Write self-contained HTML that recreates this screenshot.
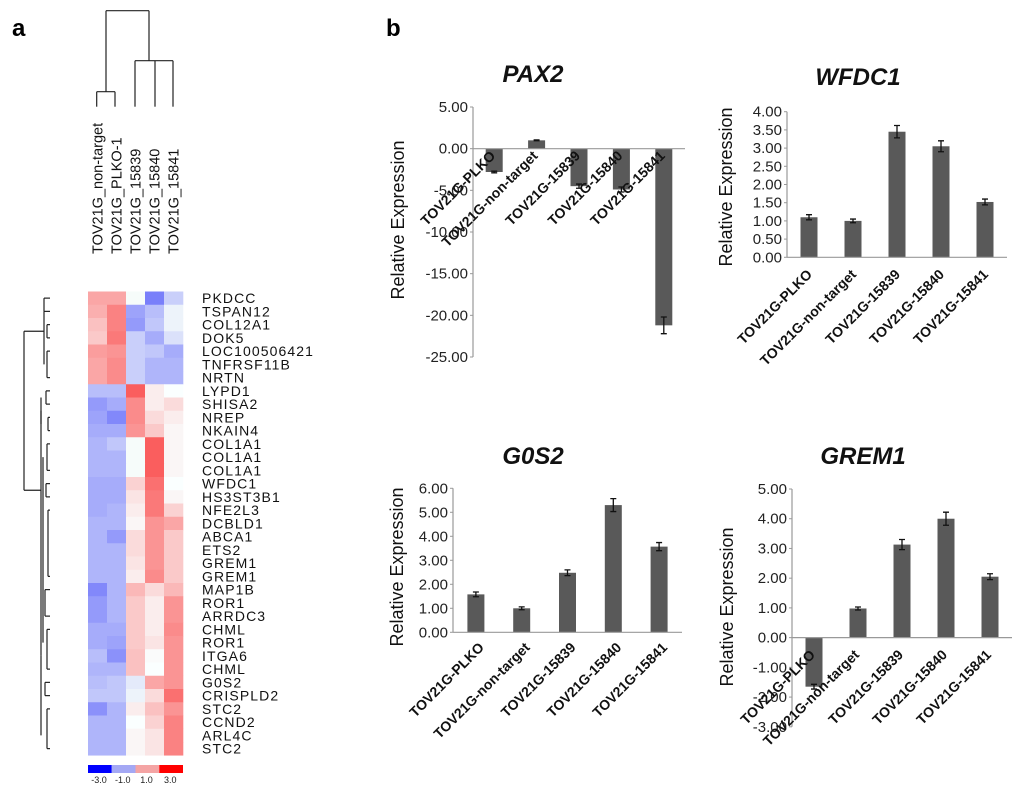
<!DOCTYPE html>
<html><head><meta charset="utf-8">
<style>
html,body{margin:0;padding:0;background:#fff;}
svg{display:block;font-family:"Liberation Sans",sans-serif;}
</style></head>
<body>
<svg id="fig" width="1024" height="787" viewBox="0 0 1024 787" xmlns="http://www.w3.org/2000/svg">
<text x="12" y="36" font-size="24" font-weight="bold">a</text>
<text x="386" y="36" font-size="24" font-weight="bold">b</text>
<g id="heat"></g>
<g id="charts"></g>
</svg>
<script>
const NS="http://www.w3.org/2000/svg";
function mk(tag,attrs,parent,txt){const e=document.createElementNS(NS,tag);for(const k in attrs)e.setAttribute(k,attrs[k]);if(txt!==undefined)e.textContent=txt;parent.appendChild(e);return e;}

// ---------- Heatmap data ----------
const heatSamples=["TOV21G_non-target","TOV21G_PLKO-1","TOV21G_15839","TOV21G_15840","TOV21G_15841"];
const heatGenes=["PKDCC","TSPAN12","COL12A1","DOK5","LOC100506421","TNFRSF11B","NRTN","LYPD1","SHISA2","NREP","NKAIN4","COL1A1","COL1A1","COL1A1","WFDC1","HS3ST3B1","NFE2L3","DCBLD1","ABCA1","ETS2","GREM1","GREM1","MAP1B","ROR1","ARRDC3","CHML","ROR1","ITGA6","CHML","G0S2","CRISPLD2","STC2","CCND2","ARL4C","STC2"];
const heatValues=[
[1.0,1.0,-0.1,-1.5,-0.6],[0.9,1.4,-1.1,-0.8,-0.2],[0.7,1.4,-1.2,-0.7,-0.2],[0.6,1.5,-0.6,-1.0,-0.4],
[1.1,1.2,-0.6,-0.7,-1.0],[1.0,1.3,-0.6,-0.9,-0.9],[1.0,1.3,-0.6,-0.9,-0.9],
[-0.8,-0.8,1.8,0.2,0.0],[-1.2,-1.0,1.3,0.2,0.4],[-1.1,-1.4,1.3,0.4,0.2],[-1.0,-1.0,1.2,0.6,0.1],
[-0.9,-0.7,-0.1,1.8,0.1],[-0.9,-0.9,-0.1,1.8,0.1],[-0.9,-0.9,-0.1,1.8,0.1],
[-1.0,-1.0,0.5,1.6,0.0],[-1.0,-1.0,0.3,1.5,0.1],[-1.0,-0.9,0.2,1.5,0.5],[-0.9,-0.9,0.1,1.2,1.0],
[-0.9,-1.2,0.4,1.2,0.6],[-0.9,-0.9,0.4,1.2,0.6],[-0.9,-0.9,0.3,1.2,0.6],[-0.9,-0.9,0.2,1.3,0.6],
[-1.4,-0.9,0.8,0.4,0.8],[-1.2,-0.9,0.6,0.2,1.2],[-1.2,-0.9,0.6,0.2,1.2],[-1.0,-1.0,0.6,0.2,1.3],
[-1.0,-1.1,0.6,0.3,1.2],[-0.8,-1.3,0.7,0.05,1.2],[-0.9,-0.9,0.7,0.0,1.2],
[-0.8,-0.7,-0.3,1.0,1.2],[-0.7,-0.7,-0.2,0.4,1.6],[-1.3,-0.9,0.2,0.7,1.2],[-0.9,-0.9,0.0,0.5,1.4],
[-0.9,-0.9,0.1,0.3,1.4],[-0.9,-0.9,0.1,0.3,1.4]];
const colorbarLabels=["-3.0","-1.0","1.0","3.0"];

const H=document.getElementById('heat');
const hx0=88,cw=19,hy0=291.5,rh=13.25;
function heatColor(v){const f=Math.min(Math.abs(v)/3,1);const c=Math.round(255*(1-f*1.05));const cc=Math.max(c,0);
 return v>=0?`rgb(250,${cc},${cc})`:`rgb(${cc},${Math.min(cc+6,255)},250)`;}
heatValues.forEach((row,r)=>{row.forEach((v,c)=>{
 const e=mk('rect',{x:hx0+c*cw,y:hy0+r*rh,width:cw+0.3,height:rh+0.3,fill:heatColor(v)},H);
 
 
});
 const t=mk('text',{x:202,y:hy0+r*rh+rh/2+5,'font-size':14,fill:'#111','letter-spacing':'1.1'},H,heatGenes[r]);
 
 
});
heatSamples.forEach((s,c)=>{
 const x=hx0+c*cw+cw/2+5;
 const t=mk('text',{x:x,y:254,'font-size':14.5,fill:'#111',transform:`rotate(-90 ${x} 254)`},H,s);
 
 
});
// top dendrogram
const topD=[[96.7,106.7,96.7,91.7],[115,106.7,115,91.7],[96.7,91.7,115,91.7],[106,91.7,106,10.7],
[135,106.7,135,60.7],[155,106.7,155,60.7],[173,106.7,173,60.7],[135,60.7,173,60.7],[149,60.7,149,10.7],[106,10.7,149,10.7]];
topD.forEach(l=>{const e=mk('line',{x1:l[0],y1:l[1],x2:l[2],y2:l[3],stroke:'#222','stroke-width':1.2},H);
 
 });
// left dendrogram (simplified)
const rowY=i=>hy0+i*rh+rh/2;
const leftD=[];
function clus(a,b,x){leftD.push([x,rowY(a),50,rowY(a)]);leftD.push([x,rowY(b),50,rowY(b)]);leftD.push([x,rowY(a),x,rowY(b)]);}
clus(0,1,44);clus(2,3,47);clus(4,6,47);leftD.push([44,rowY(1),44,rowY(5)]);
clus(7,8,46);clus(9,10,48);leftD.push([41,rowY(7.5),41,rowY(9.5)]);
clus(11,13,47);clus(14,15,46);clus(16,21,48);clus(22,24,45);clus(25,28,47);clus(29,30,45);clus(31,34,47);
leftD.push([41,rowY(8.5),41,rowY(27)]);leftD.push([43,rowY(12),43,rowY(26)]);
leftD.push([24,rowY(2.5),44,rowY(2.5)]);leftD.push([24,rowY(14.5),41,rowY(14.5)]);leftD.push([24,rowY(2.5),24,rowY(14.5)]);
leftD.push([41,rowY(27),41,rowY(33)]);
leftD.forEach(l=>{const e=mk('line',{x1:l[0],y1:l[1],x2:l[2],y2:l[3],stroke:'#222','stroke-width':1.2},H);
 
 });
// colorbar
const cbCols=['#0000ff','#a4a8f4','#f4a4a4','#ff0000'];
cbCols.forEach((c,i)=>{const e=mk('rect',{x:hx0+i*23.75,y:765,width:23.75,height:8,fill:c},H);
 
 
 const t=mk('text',{x:hx0+i*23.75+11,y:783,'font-size':9,'text-anchor':'middle',fill:'#222'},H,colorbarLabels[i]);
 
 });

// ---------- Bar chart data ----------
const categories=["TOV21G-PLKO","TOV21G-non-target","TOV21G-15839","TOV21G-15840","TOV21G-15841"];
const pax2Values=[-2.8,1.0,-4.5,-4.9,-21.2];
const pax2Errors=[0.1,0.05,0.25,0.3,1.0];
const pax2Ticks=["5.00","0.00","-5.00","-10.00","-15.00","-20.00","-25.00"];
const wfdc1Values=[1.1,1.0,3.45,3.05,1.52];
const wfdc1Errors=[0.07,0.05,0.17,0.15,0.08];
const wfdc1Ticks=["4.00","3.50","3.00","2.50","2.00","1.50","1.00","0.50","0.00"];
const g0s2Values=[1.58,1.0,2.48,5.3,3.57];
const g0s2Errors=[0.1,0.06,0.12,0.27,0.17];
const g0s2Ticks=["6.00","5.00","4.00","3.00","2.00","1.00","0.00"];
const grem1Values=[-1.65,0.98,3.13,4.0,2.05];
const grem1Errors=[0.08,0.05,0.17,0.22,0.1];
const grem1Ticks=["5.00","4.00","3.00","2.00","1.00","0.00","-1.00","-2.00","-3.00"];

const C=document.getElementById('charts');
function chart(o){
 const g=mk('g',{},C);
 
 
 const tv=o.ticks.map(Number);
 const ymax=tv[0],ymin=tv[tv.length-1];
 const y=v=>o.yTop+(ymax-v)/(ymax-ymin)*(o.yBot-o.yTop);
 const cw=(o.xR-o.x0)/categories.length;
 const xc=i=>o.x0+cw*(i+0.5);
 const t=mk('text',{x:o.tx,y:o.ty,'font-size':24,'font-weight':'bold','font-style':'italic','text-anchor':'middle',fill:'#111'},g,o.title);
 
 
 const yt=mk('text',{x:o.ytx,y:o.yty,'font-size':18,'text-anchor':'middle',fill:'#111',transform:`rotate(-90 ${o.ytx} ${o.yty})`},g,'Relative Expression');
 
 
 o.ticks.forEach((s,i)=>{const v=tv[i];
  const e=mk('text',{x:o.x0-5,y:y(v)+5,'font-size':15,'text-anchor':'end',fill:'#222'},g,s);
  
  
  const tk=mk('line',{x1:o.x0-3,y1:y(v),x2:o.x0,y2:y(v),stroke:'#999'},g);
  
  });
 const ax=mk('line',{x1:o.x0,y1:y(ymax),x2:o.x0,y2:y(ymin),stroke:'#999','stroke-width':1.2},g);
 
 
 o.values.forEach((v,i)=>{
  const bw=17,x=xc(i);
  const b=mk('rect',{x:x-bw/2,y:Math.min(y(v),y(0)),width:bw,height:Math.abs(y(v)-y(0)),fill:'#595959'},g);
  
  
  const e=o.errors[i],ya=y(v+e),yb=y(v-e);
  const eb=mk('path',{d:`M${x-3},${ya}H${x+3}M${x},${ya}V${yb}M${x-3},${yb}H${x+3}`,stroke:'#111','stroke-width':1.3,fill:'none'},g);
  
  
 });
 const zx=mk('line',{x1:o.x0,y1:y(0),x2:o.xR,y2:y(0),stroke:'#999','stroke-width':1.2},g);
 
 
 categories.forEach((c,i)=>{const ax2=xc(i)+o.lx,ay=y(0)+o.ly;
  const e=mk('text',{x:ax2,y:ay,'font-size':14,'font-weight':'bold','text-anchor':'end',fill:'#111',transform:`rotate(-45 ${ax2} ${ay})`},g,c);
  
  });
}
chart({name:'pax2',title:'PAX2',values:pax2Values,errors:pax2Errors,ticks:pax2Ticks,x0:473,xR:685,yTop:107,yBot:357,tx:533,ty:82,ytx:404,yty:220,lx:2,ly:8});
chart({name:'wfdc1',title:'WFDC1',values:wfdc1Values,errors:wfdc1Errors,ticks:wfdc1Ticks,x0:787,xR:1007,yTop:111.7,yBot:257.3,tx:858,ty:85,ytx:732,yty:187,lx:4,ly:18});
chart({name:'g0s2',title:'G0S2',values:g0s2Values,errors:g0s2Errors,ticks:g0s2Ticks,x0:453,xR:682,yTop:488.3,yBot:632.3,tx:533,ty:464,ytx:403,yty:567,lx:9,ly:16});
chart({name:'grem1',title:'GREM1',values:grem1Values,errors:grem1Errors,ticks:grem1Ticks,x0:792,xR:1012,yTop:489,yBot:726.8,tx:863,ty:464,ytx:733,yty:607,lx:2,ly:18});
</script>
</body></html>
